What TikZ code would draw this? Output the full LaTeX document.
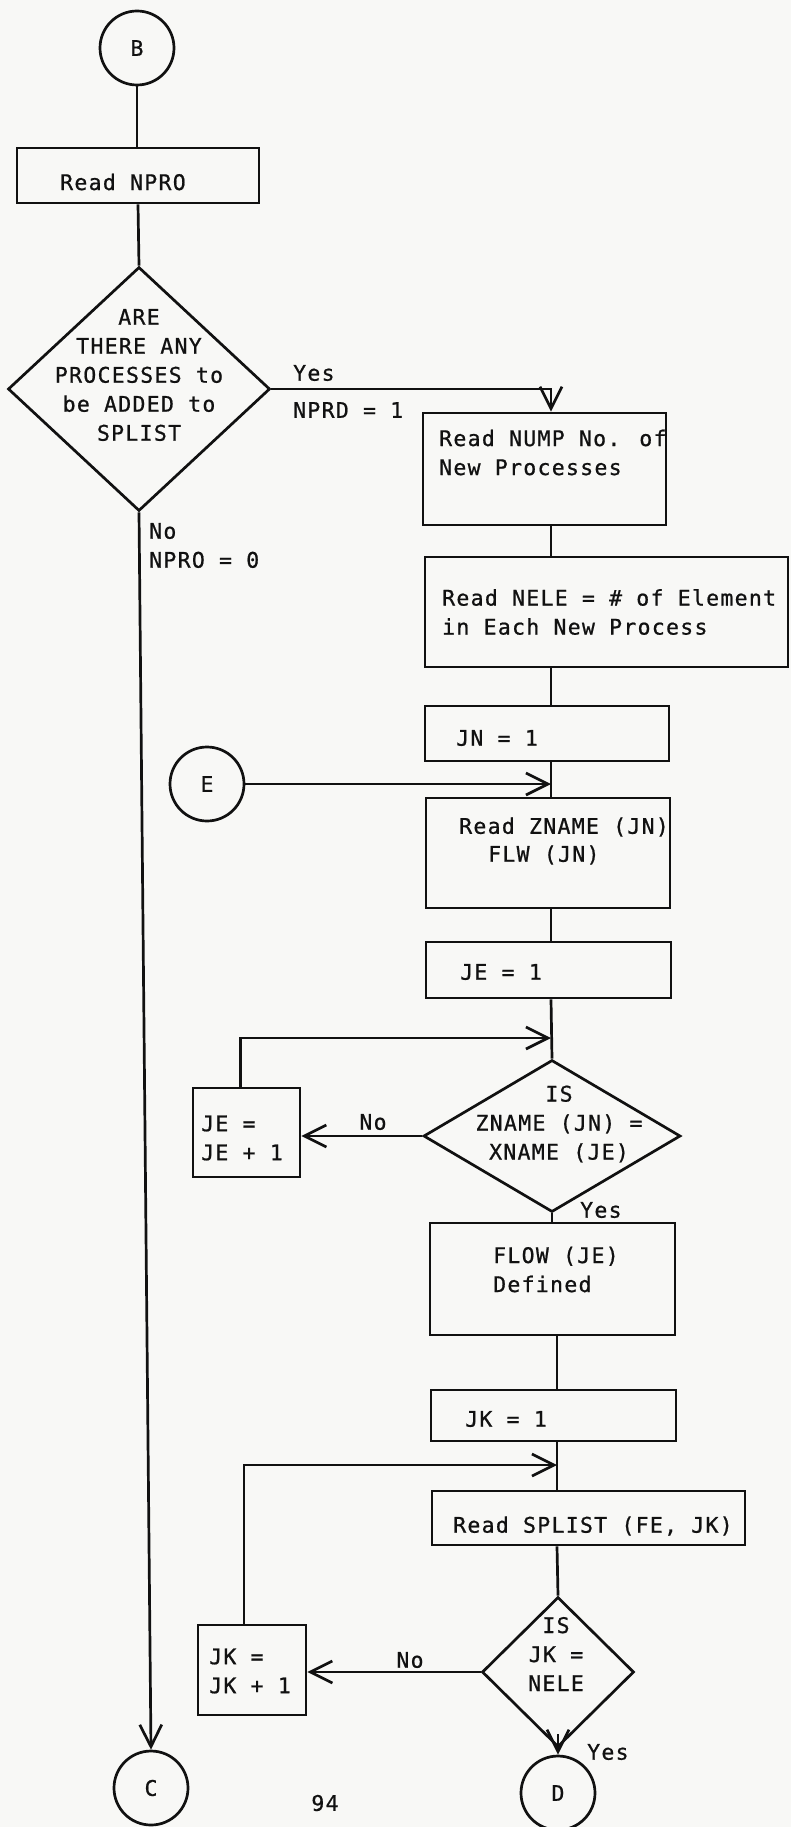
\documentclass[tikz,border=0pt]{standalone}
\usepackage{fontspec}
\newfontfamily\tfont[LetterSpace=6,FakeBold=0.8]{DejaVu Sans Mono}
\usetikzlibrary{shapes.geometric,arrows.meta,calc}
\definecolor{ink}{HTML}{111111}
\definecolor{paper}{HTML}{F8F8F6}
\begin{document}
\begin{tikzpicture}[x=1pt,y=-1pt,
  every node/.style={font={\tfont\fontsize{21.5pt}{29pt}\selectfont}, text=ink},
  flow/.style={draw=ink, line width=2.7pt},
  box/.style={flow, rectangle, inner sep=0pt},
  dia/.style={flow, diamond, inner sep=0pt},
  conn/.style={flow, circle, inner sep=0pt, minimum size=74pt},
  arr/.style={flow, -{Straight Barb[length=22pt,width=22pt]}},
  lbl/.style={inner sep=0pt, anchor=west, align=left},
  ctr/.style={inner sep=0pt, align=center}]
\useasboundingbox (0,0) rectangle (791,1827);
\fill[paper] (0,0) rectangle (791,1827);

\coordinate (sp) at (551,0);
\coordinate (sq) at (557,0);

% left column
\node[conn] (B) at (137,48) {B};
\node[box, minimum width=242pt, minimum height=55pt] (npro) at (138,175.5) {};
\node[lbl] (nprot) at (60,182) {Read NPRO};
\node[dia, minimum width=262pt, minimum height=244pt] (d1) at (139,389) {};
\node[ctr] (d1t) at (139,375) {ARE\\THERE ANY\\PROCESSES to\\be ADDED to\\SPLIST};
\node[lbl] (yes1) at (293,373) {Yes};
\node[lbl] (nprd) at (293,410) {NPRD = 1};
\node[lbl] (no1) at (149,545.5) {No\\NPRO = 0};
\node[conn] (C) at (151,1788) {C};
\node[ctr] (pg) at (325,1803) {94};

% right column
\node[box, minimum width=243pt, minimum height=112pt] (nump) at (544.5,469) {};
\node[lbl] (numpt) at (439,452.5) {Read NUMP No. of\\New Processes};
\node[box, minimum width=363pt, minimum height=110pt] (nele) at (606.5,612) {};
\node[lbl] (nelet) at (442,612) {Read NELE = \# of Element\\in Each New Process};
\node[box, minimum width=244pt, minimum height=55pt] (jn) at (547,733.5) {};
\node[lbl] (jnt) at (456,738) {JN = 1};
\node[conn] (E) at (207,784) {E};
\node[box, minimum width=244pt, minimum height=110pt] (zn) at (548,853) {};
\node[lbl] (znt1) at (459,827) {Read ZNAME (JN)};
\node[lbl] (znt2) at (488,855) {FLW (JN)};
\node[box, minimum width=245pt, minimum height=56pt] (je) at (548.5,970) {};
\node[lbl] (jet) at (460,972) {JE = 1};
\node[dia, minimum width=257pt, minimum height=152pt] (d2) at (552,1136) {};
\node[ctr] (d2t) at (559,1124) {IS\\ZNAME (JN) =\\XNAME (JE)};
\node[box, minimum width=107pt, minimum height=89pt] (jeinc) at (246.5,1132.5) {};
\node[lbl] (jeinct) at (201,1138) {JE =\\JE + 1};
\node[ctr] (no2) at (373,1122) {No};
\node[lbl] (yes2) at (580,1210) {Yes};
\node[box, minimum width=245pt, minimum height=112pt] (flw) at (552.5,1279) {};
\node[lbl] (flwt) at (493,1269.5) {FLOW (JE)\\Defined};
\node[box, minimum width=245pt, minimum height=51pt] (jk) at (553.5,1415.5) {};
\node[lbl] (jkt) at (465,1419) {JK = 1};
\node[box, minimum width=313pt, minimum height=54pt] (spl) at (588.5,1518) {};
\node[lbl] (splt) at (453,1526) {Read SPLIST (FE, JK)};
\node[dia, minimum width=152pt, minimum height=150pt] (d3) at (558,1672) {};
\node[ctr] (d3t) at (556,1654) {IS\\JK =\\NELE};
\node[box, minimum width=108pt, minimum height=90pt] (jkinc) at (252,1670) {};
\node[lbl] (jkinct) at (209,1671) {JK =\\JK + 1};
\node[ctr] (no3) at (410,1660) {No};
\node[lbl] (yes3) at (587,1752) {Yes};
\node[conn] (D) at (558,1793) {D};

\coordinate (j1) at (551,1038);
\coordinate (k1) at (557,1465);

% connectors
\draw[flow] (B.south) -- (B.south |- npro.north);
\draw[flow] (npro.south) -- (d1.north);
\draw[arr] (d1.east) -| (sp |- nump.north);
\draw[arr] (d1.south) -- (C.north);
\draw[flow] (nump.south -| sp) -- (nele.north -| sp);
\draw[flow] (nele.south -| sp) -- (jn.north -| sp);
\draw[flow] (jn.south -| sp) -- (zn.north -| sp);
\draw[arr] (E.east) -- (E.east -| sp);
\draw[flow] (zn.south -| sp) -- (je.north -| sp);
\draw[flow] (je.south -| sp) -- (d2.north);
\draw[arr] ([xshift=-6pt]jeinc.north) |- (j1);
\draw[arr] (d2.west) -- (d2.west -| jeinc.east);
\draw[flow] (d2.south) -- (d2.south |- flw.north);
\draw[flow] (flw.south -| sq) -- (jk.north -| sq);
\draw[flow] (jk.south -| sq) -- (spl.north -| sq);
\draw[arr] ([xshift=-8pt]jkinc.north) |- (k1);
\draw[flow] (spl.south -| sq) -- (d3.north);
\draw[arr] (d3.west) -- (d3.west -| jkinc.east);
\draw[arr] ([yshift=14pt]d3.south) -- (D.north);
\end{tikzpicture}
\end{document}
